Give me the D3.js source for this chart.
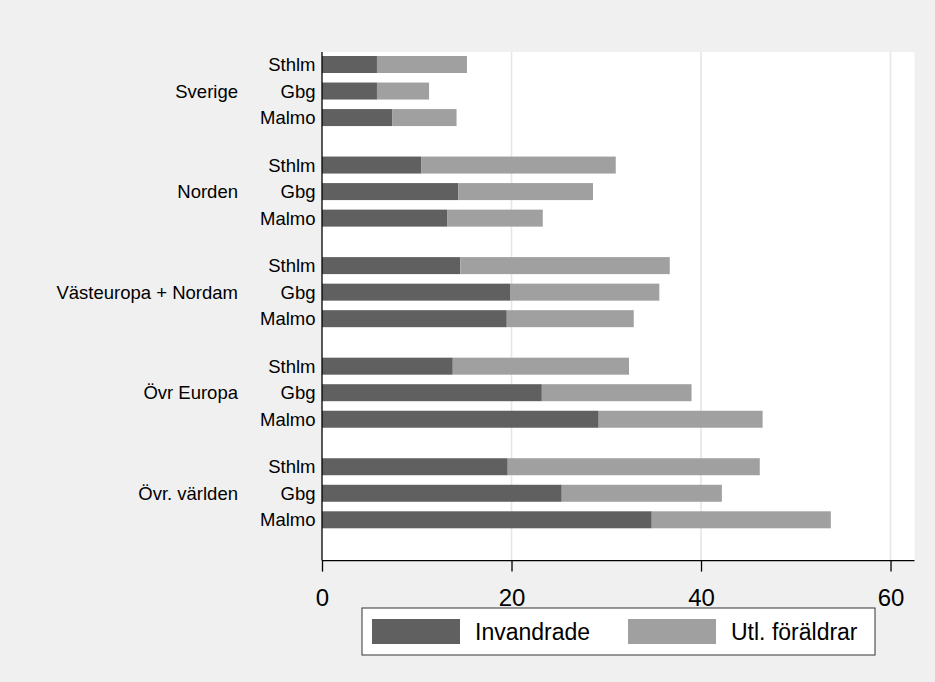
<!DOCTYPE html>
<html>
<head>
<meta charset="utf-8">
<script src="https://cdn.jsdelivr.net/npm/d3@7"></script>
<style>
html,body{margin:0;padding:0;background:#f0f0f0;}
svg{display:block;}
text{font-family:"Liberation Sans", Arial, sans-serif;fill:#000;}
</style>
</head>
<body>
<script>
const groups = ["Sverige", "Norden", "Västeuropa + Nordam", "Övr Europa", "Övr. världen"];
const cities = ["Sthlm", "Gbg", "Malmo"];
// Invandrade (dark segment), by group then city
const invandrade = [
  [5.8, 5.8, 7.4],
  [10.5, 14.4, 13.2],
  [14.6, 19.9, 19.5],
  [13.8, 23.2, 29.2],
  [19.6, 25.3, 34.8]
];
// Utl. föräldrar (light segment, stacked on top)
const utlForaldrar = [
  [9.5, 5.5, 6.8],
  [20.5, 14.2, 10.1],
  [22.1, 15.7, 13.4],
  [18.6, 15.8, 17.3],
  [26.6, 16.9, 18.9]
];
const xTicks = [0, 20, 40, 60];
const seriesNames = ["Invandrade", "Utl. föräldrar"];
const colors = ["#606060", "#a0a0a0"];

const W = 935, H = 682;
const svg = d3.select("body").append("svg").attr("width", W).attr("height", H);
svg.append("rect").attr("width", W).attr("height", H).attr("fill", "#f0f0f0");

const plot = {left: 322, right: 914.5, top: 52, bottom: 560.6};
svg.append("rect").attr("x", plot.left).attr("y", plot.top)
  .attr("width", plot.right - plot.left).attr("height", plot.bottom - plot.top)
  .attr("fill", "#fff");

const x = d3.scaleLinear().domain([0, 62.53]).range([plot.left, plot.right]);

// slot positions: 3 rows per group plus a gap between groups
const gapSlots = 0.79;
const slot = (g, i) => g * (3 + gapSlots) + i;
const y = d3.scaleLinear().domain([0, slot(4, 2)]).range([64.5, 519.8]);
const barH = 17;

// grid lines
svg.append("g").selectAll("line").data(xTicks.filter(t => t > 0)).join("line")
  .attr("x1", d => x(d)).attr("x2", d => x(d))
  .attr("y1", plot.top).attr("y2", plot.bottom)
  .attr("stroke", "#e6e6e6").attr("stroke-width", 1.6);

// bars
const rows = [];
groups.forEach((g, gi) => cities.forEach((c, ci) => {
  rows.push({g: gi, i: ci, city: c, a: invandrade[gi][ci], b: utlForaldrar[gi][ci]});
}));
const bars = svg.append("g");
rows.forEach(r => {
  const yc = y(slot(r.g, r.i));
  bars.append("rect").attr("x", x(0)).attr("y", yc - barH / 2)
    .attr("width", x(r.a) - x(0)).attr("height", barH).attr("fill", colors[0]);
  bars.append("rect").attr("x", x(r.a)).attr("y", yc - barH / 2)
    .attr("width", x(r.a + r.b) - x(r.a)).attr("height", barH).attr("fill", colors[1]);
});

// city labels
svg.append("g").selectAll("text").data(rows).join("text")
  .attr("x", 315.5).attr("y", d => y(slot(d.g, d.i)) + 6.6)
  .attr("text-anchor", "end").attr("font-size", 18.5).text(d => d.city);

// group labels
svg.append("g").selectAll("text").data(groups).join("text")
  .attr("x", 238).attr("y", (d, gi) => y(slot(gi, 1)) + 6.6)
  .attr("text-anchor", "end").attr("font-size", 18.5).text(d => d);

// y axis line
svg.append("line").attr("x1", plot.left).attr("x2", plot.left)
  .attr("y1", plot.top).attr("y2", plot.bottom).attr("stroke", "#000").attr("stroke-width", 1.3);

// x axis
const xAxis = svg.append("g").attr("transform", `translate(0,${plot.bottom})`)
  .call(d3.axisBottom(x).tickValues(xTicks).tickSize(11).tickPadding(10).tickSizeOuter(0));
xAxis.select(".domain").attr("stroke", "#000").attr("stroke-width", 1.3)
  .attr("d", `M${plot.left},0H${plot.right}`);
xAxis.selectAll(".tick line").attr("stroke", "#000").attr("stroke-width", 1.3);
xAxis.selectAll(".tick text").attr("font-size", 24).attr("font-family", "Liberation Sans, Arial, sans-serif")
  .attr("fill", "#000").attr("dy", null).attr("y", 45);

// legend
const leg = svg.append("g");
leg.append("rect").attr("x", 362).attr("y", 608).attr("width", 513).attr("height", 47)
  .attr("fill", "#fff").attr("stroke", "#333").attr("stroke-width", 1);
const legX = [372, 628];
seriesNames.forEach((s, i) => {
  leg.append("rect").attr("x", legX[i]).attr("y", 619).attr("width", 88).attr("height", 25).attr("fill", colors[i]);
  leg.append("text").attr("x", legX[i] + 103).attr("y", 640.4).attr("font-size", 23).text(s);
});
</script>
</body>
</html>
